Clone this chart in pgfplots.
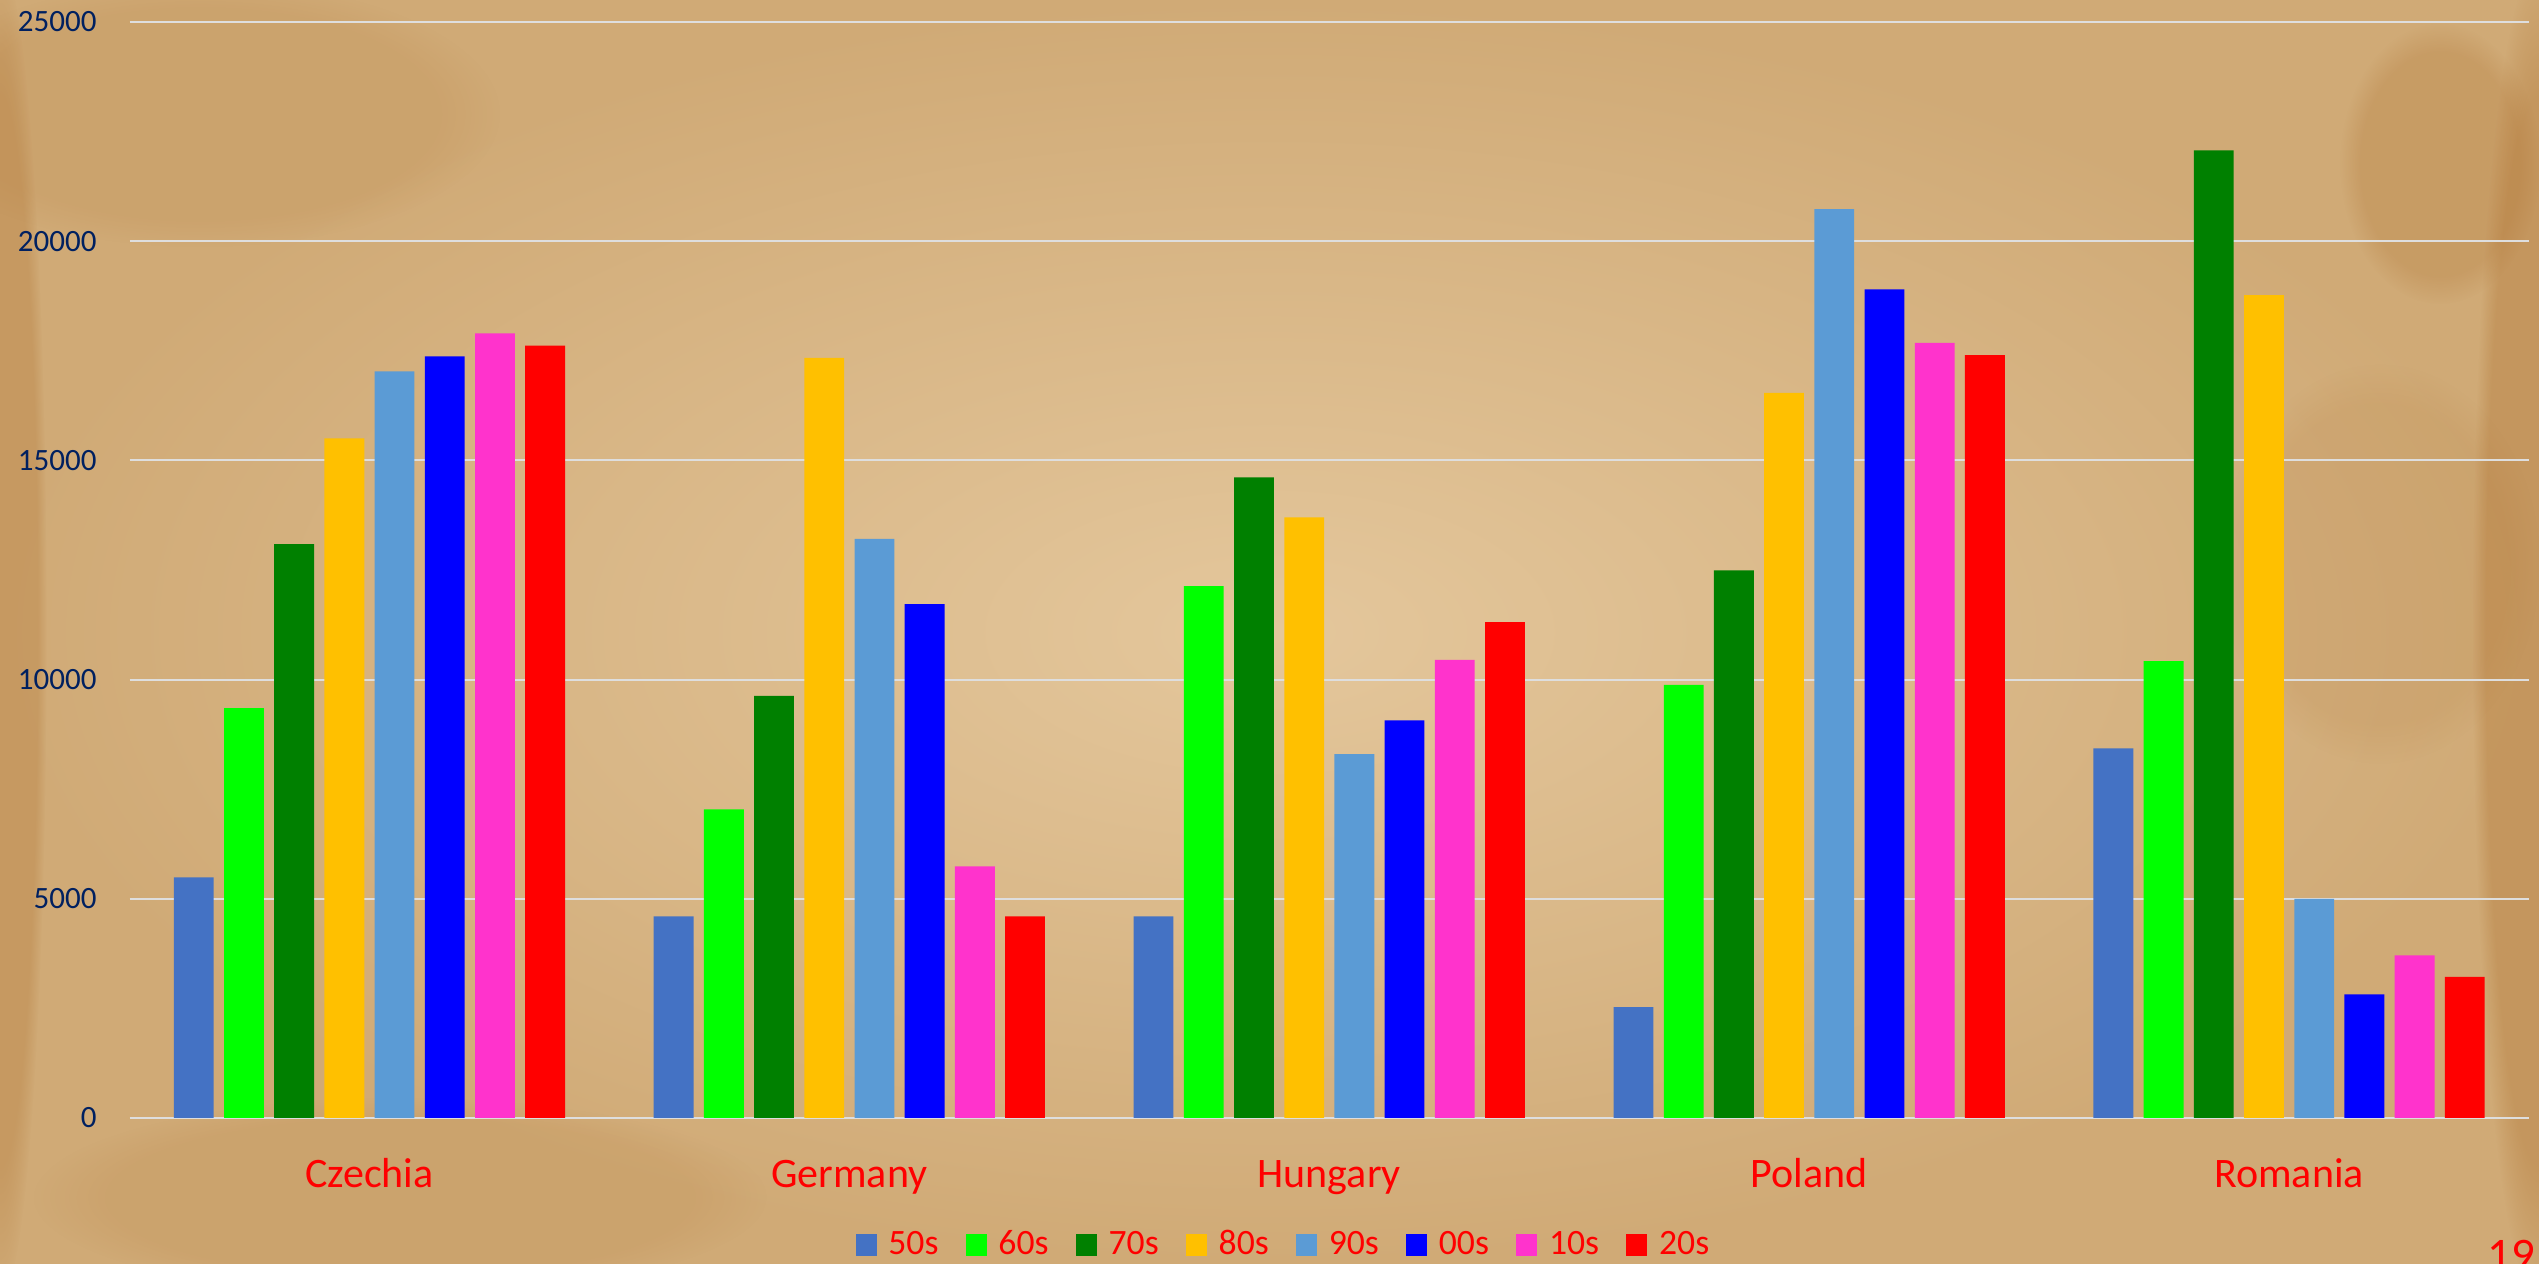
\documentclass[border=0pt]{standalone}
\usepackage{pgfplots}
\pgfplotsset{compat=1.18}
\usepackage{pgfplotstable}
\usepackage{fontspec}
\setmainfont{Carlito}
\usetikzlibrary{fadings}

\definecolor{paperlight}{RGB}{228,199,156}
\definecolor{paperdark}{RGB}{208,170,118}
\definecolor{stain}{RGB}{175,115,50}
\definecolor{gridgrey}{RGB}{222,222,222}
\definecolor{ticknavy}{RGB}{0,32,96}
\definecolor{c50}{HTML}{4472C4}
\definecolor{c60}{HTML}{00FF00}
\definecolor{c70}{HTML}{008000}
\definecolor{c80}{HTML}{FFC000}
\definecolor{c90}{HTML}{5B9BD5}
\definecolor{c00}{HTML}{0000FF}
\definecolor{c10}{HTML}{FF33CC}
\definecolor{c20}{HTML}{FF0000}

% values per country (rows) and decade (columns)
\pgfplotstableread{
cat s50  s60   s70   s80   s90   s00   s10   s20
0   5490 9350  13090 15500 17030 17370 17900 17620
1   4600 7040  9630  17340 13210 11720 5740  4600
2   4600 12130 14610 13700 8300  9070  10450 11310
3   2530 9880  12490 16540 20730 18900 17680 17400
4   8430 10420 22070 18770 5000  2820  3710  3220
}\decades

\begin{document}
\begin{tikzpicture}
  \useasboundingbox (0pt,0pt) rectangle (761.7pt,379.2pt);
  % aged paper background
  \shade[inner color=paperlight, outer color=paperdark] (0pt,0pt) rectangle (761.7pt,379.2pt);
  \fill[stain, opacity=0.3, path fading=circle with fuzzy edge 20 percent] (0pt,190pt) ellipse (14pt and 200pt);
  \fill[stain, opacity=0.35, path fading=circle with fuzzy edge 20 percent] (761.7pt,190pt) ellipse (20pt and 200pt);
  \fill[stain, opacity=0.25, path fading=circle with fuzzy edge 20 percent] (732pt,330pt) ellipse (30pt and 42pt);
  \fill[stain, opacity=0.12, path fading=circle with fuzzy edge 20 percent] (714pt,210pt) ellipse (48pt and 60pt);
  \fill[stain, opacity=0.12, path fading=circle with fuzzy edge 20 percent] (60pt,345pt) ellipse (90pt and 40pt);
  \fill[stain, opacity=0.12, path fading=circle with fuzzy edge 20 percent] (120pt,20pt) ellipse (110pt and 30pt);

  \begin{axis}[
    at={(38.85pt,43.8pt)}, anchor=south west,
    scale only axis, width=719.85pt, height=328.8pt,
    xmin=-0.5, xmax=4.5, ymin=0, ymax=25000,
    axis line style={draw=none},
    major tick length=0pt, tick style={draw=none},
    ytick={0,5000,10000,15000,20000,25000},
    ymajorgrids, grid style={gridgrey, line width=0.6pt},
    scaled y ticks=false,
    /pgf/number format/1000 sep={},
    /pgf/number format/assume math mode=true,
    yticklabel style={font=\fontsize{9.3}{11}\selectfont, text=ticknavy, inner sep=0pt, anchor=east, xshift=-9.7pt},
    xtick={0,1,2,3,4},
    xticklabels={Czechia,Germany,Hungary,Poland,Romania},
    xticklabel style={font=\fontsize{12.6}{14}\selectfont, text=c20, inner sep=0pt, anchor=base, yshift=-21pt},
    ybar, bar width=11.95pt,
    legend image code/.code={\fill[#1, draw=none] (0pt,-3.4pt) rectangle (6.3pt,3.4pt);},
    legend columns=8,
    legend style={at={(axis description cs:0.4805,-0.1159)}, anchor=center,
      draw=none, fill=none, inner sep=0pt, row sep=0pt,
      font=\fontsize{10.7}{12}\selectfont, text=c20,
      nodes={inner sep=0pt},
      /tikz/every odd column/.append style={column sep=3.5pt},
      /tikz/every even column/.append style={column sep=8.2pt}},
  ]
    \addplot[fill=c50, draw=none, bar shift=-52.71pt] table[x=cat, y=s50] {\decades};
    \addplot[fill=c60, draw=none, bar shift=-37.65pt] table[x=cat, y=s60] {\decades};
    \addplot[fill=c70, draw=none, bar shift=-22.59pt] table[x=cat, y=s70] {\decades};
    \addplot[fill=c80, draw=none, bar shift=-7.53pt] table[x=cat, y=s80] {\decades};
    \addplot[fill=c90, draw=none, bar shift=7.53pt] table[x=cat, y=s90] {\decades};
    \addplot[fill=c00, draw=none, bar shift=22.59pt] table[x=cat, y=s00] {\decades};
    \addplot[fill=c10, draw=none, bar shift=37.65pt] table[x=cat, y=s10] {\decades};
    \addplot[fill=c20, draw=none, bar shift=52.71pt] table[x=cat, y=s20] {\decades};
    \legend{50s,60s,70s,80s,90s,00s,10s,20s}
  \end{axis}

  % page number
  \node[anchor=north west, inner sep=0pt, text=c20, font=\fontsize{14}{16}\selectfont] at (746pt,7.2pt) {19};
\end{tikzpicture}
\end{document}
